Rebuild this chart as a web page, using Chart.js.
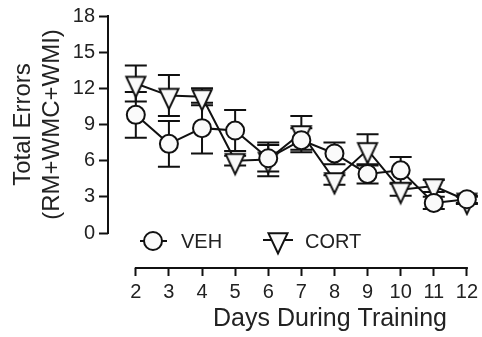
<!DOCTYPE html>
<html>
<head>
<meta charset="utf-8">
<script src="https://cdn.jsdelivr.net/npm/chart.js@4.4.1/dist/chart.umd.min.js"></script>
<style>
  html, body { margin: 0; padding: 0; background: #fff; }
</style>
</head>
<body>
<canvas id="chart" width="482" height="337"></canvas>
<script>
// Data (mean and error per training day)
const days = [2, 3, 4, 5, 6, 7, 8, 9, 10, 11, 12];
const yTicks = [0, 3, 6, 9, 12, 15, 18];
const seriesLabels = ['VEH', 'CORT'];
const vehMean = [9.8, 7.4, 8.7, 8.5, 6.2, 7.7, 6.6, 4.9, 5.2, 2.5, 2.8];
const vehErr  = [1.9, 1.9, 2.1, 1.7, 1.1, 1.0, 0.9, 0.8, 1.1, 0.5, 0.3];
const cortMean = [12.4, 11.4, 11.3, 6.0, 6.1, 8.3, 4.4, 6.9, 3.6, 3.9, 2.7];
const cortErr  = [1.5, 1.7, 0.7, 0.4, 1.4, 1.4, 0.4, 1.3, 0.5, 0.5, 0.3];

const yTitle = ['Total Errors', '(RM+WMC+WMI)'];
const xTitle = 'Days During Training';

const FONT = '"Liberation Sans", Arial, sans-serif';
const INK = '#111';
const FILL = '#fafafa';

// downward triangle, a bit taller than equilateral, centroid at image centre
function makeTriangle() {
    const c = document.createElement('canvas');
    c.width = 32; c.height = 32;
    const g = c.getContext('2d');
    const h = 20, hw = 9.5, cx = 16, cy = 16;
    g.beginPath();
    g.moveTo(cx - hw, cy - h / 3);
    g.lineTo(cx + hw, cy - h / 3);
    g.lineTo(cx, cy + 2 * h / 3);
    g.closePath();
    g.fillStyle = FILL;
    g.fill();
    g.lineWidth = 2;
    g.lineJoin = 'miter';
    g.strokeStyle = INK;
    g.stroke();
    return c;
}
const triangleImg = makeTriangle();

const means = [vehMean, cortMean];
const errors = [vehErr, cortErr];

// error bars under markers, detached axis lines, titles and legend
const extras = {
    id: 'extras',
    beforeDatasetsDraw(chart) {
        const ctx = chart.ctx;
        const x = chart.scales.x, y = chart.scales.y;
        ctx.save();
        ctx.strokeStyle = INK;
        ctx.lineWidth = 2;
        means.forEach((m, i) => {
            m.forEach((v, j) => {
                const px = x.getPixelForValue(days[j]);
                const top = y.getPixelForValue(v + errors[i][j]);
                const bot = y.getPixelForValue(v - errors[i][j]);
                ctx.beginPath();
                ctx.moveTo(px, top); ctx.lineTo(px, bot);
                ctx.moveTo(px - 11, top); ctx.lineTo(px + 11, top);
                ctx.moveTo(px - 11, bot); ctx.lineTo(px + 11, bot);
                ctx.stroke();
            });
        });
        ctx.restore();
    },
    afterDraw(chart) {
        const ctx = chart.ctx;
        const x = chart.scales.x, y = chart.scales.y;
        const area = chart.chartArea;
        ctx.save();
        ctx.strokeStyle = INK;
        ctx.lineWidth = 2;
        ctx.lineCap = 'square';
        // y axis line 0..18
        ctx.beginPath();
        ctx.moveTo(area.left, y.getPixelForValue(yTicks[0]));
        ctx.lineTo(area.left, y.getPixelForValue(yTicks[yTicks.length - 1]));
        // x axis line first..last day
        ctx.moveTo(x.getPixelForValue(days[0]), area.bottom);
        ctx.lineTo(x.getPixelForValue(days[days.length - 1]), area.bottom);
        ctx.stroke();

        ctx.fillStyle = '#222';
        // y title
        const midY = (y.getPixelForValue(0) + y.getPixelForValue(18)) / 2;
        ctx.font = '24px ' + FONT;
        ctx.textAlign = 'center';
        ctx.textBaseline = 'middle';
        ctx.save();
        ctx.translate(23, midY);
        ctx.rotate(-Math.PI / 2);
        ctx.fillText(yTitle[0], 0, 0);
        ctx.restore();
        ctx.save();
        ctx.translate(52, midY);
        ctx.rotate(-Math.PI / 2);
        ctx.fillText(yTitle[1], 0, 0);
        ctx.restore();

        // x title
        ctx.font = '25px ' + FONT;
        ctx.textBaseline = 'alphabetic';
        ctx.fillText(xTitle, 330, 326);

        // legend
        ctx.font = '20px ' + FONT;
        ctx.textAlign = 'left';
        ctx.lineWidth = 2;
        ctx.lineCap = 'butt';
        const ly = 241;
        // VEH
        ctx.beginPath();
        ctx.moveTo(140, ly); ctx.lineTo(167, ly);
        ctx.stroke();
        ctx.beginPath();
        ctx.arc(153, ly, 9, 0, Math.PI * 2);
        ctx.fillStyle = FILL;
        ctx.fill();
        ctx.stroke();
        ctx.fillStyle = '#222';
        ctx.fillText(seriesLabels[0], 181, 248);
        // CORT
        ctx.beginPath();
        ctx.moveTo(263, ly - 1); ctx.lineTo(293, ly - 1);
        ctx.stroke();
        ctx.drawImage(triangleImg, 278 - 16, ly - 1 - 16);
        ctx.fillText(seriesLabels[1], 305, 248);
        ctx.restore();
    }
};

const ctx = document.getElementById('chart').getContext('2d');
new Chart(ctx, {
    type: 'line',
    data: {
        datasets: [
            {
                label: seriesLabels[0],
                data: vehMean.map((v, i) => ({ x: days[i], y: v })),
                borderColor: INK,
                borderWidth: 2,
                pointStyle: 'circle',
                pointRadius: 9,
                pointBorderWidth: 2,
                pointBackgroundColor: FILL,
                pointBorderColor: INK,
                tension: 0,
                clip: false
            },
            {
                label: seriesLabels[1],
                data: cortMean.map((v, i) => ({ x: days[i], y: v })),
                borderColor: INK,
                borderWidth: 2,
                pointStyle: triangleImg,
                pointRadius: 10,
                tension: 0,
                clip: false
            }
        ]
    },
    options: {
        responsive: false,
        animation: false,
        events: [],
        layout: { padding: { top: 16, right: 13, left: 0, bottom: 0 } },
        plugins: { legend: { display: false }, tooltip: { enabled: false } },
        scales: {
            x: {
                type: 'linear',
                min: 1.16,
                max: 12,
                afterBuildTicks: s => { s.ticks = days.map(v => ({ value: v })); },
                afterFit: s => { s.height = 69; },
                border: { display: false },
                grid: { drawOnChartArea: false, drawTicks: true, tickLength: 8, tickWidth: 2, tickColor: INK },
                ticks: { color: '#222', font: { family: FONT, size: 20 }, padding: 4, maxRotation: 0, autoSkip: false }
            },
            y: {
                min: -2.9,
                max: 18,
                afterBuildTicks: s => { s.ticks = yTicks.map(v => ({ value: v })); },
                afterFit: s => { s.width = 108; },
                border: { display: false },
                grid: { drawOnChartArea: false, drawTicks: true, tickLength: 9, tickWidth: 2, tickColor: INK },
                ticks: { color: '#222', font: { family: FONT, size: 20 }, padding: 4 }
            }
        }
    },
    plugins: [extras]
});
</script>
</body>
</html>
